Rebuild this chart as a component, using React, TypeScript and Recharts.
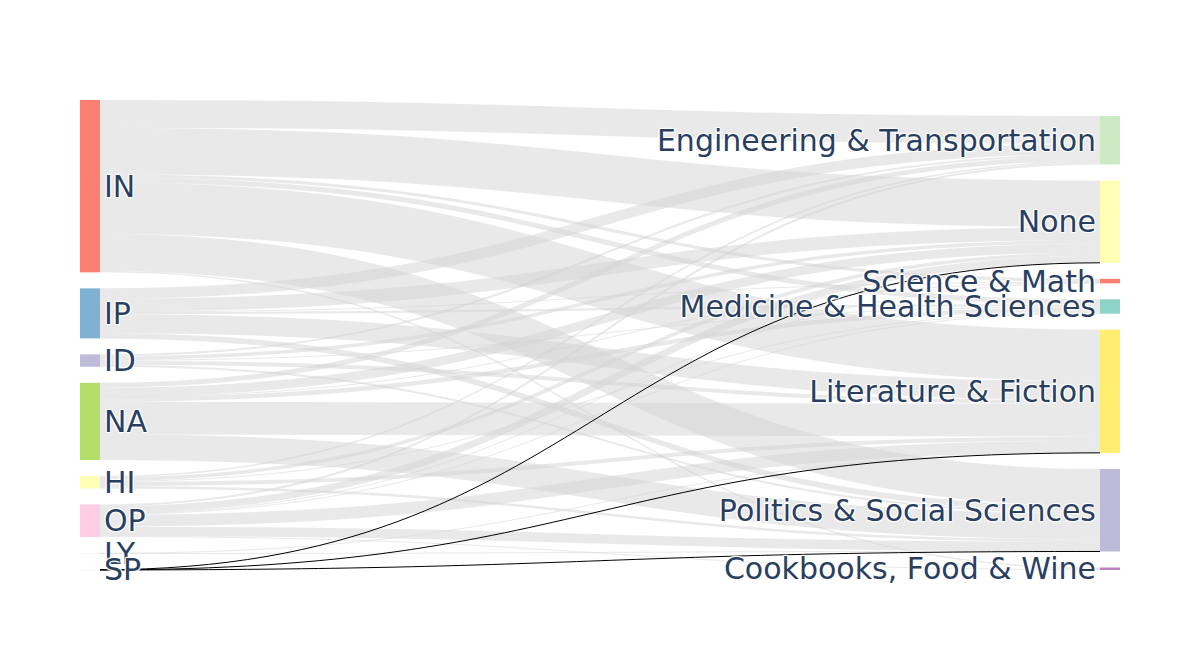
import React from 'react';
import { Sankey } from 'recharts';

// left column (source codes) and right column (categories)
const SOURCES = ['IN', 'IP', 'ID', 'NA', 'HI', 'OP', 'LY', 'SP'];
const TARGETS = [
    'Engineering & Transportation',
    'None',
    'Science & Math',
    'Medicine & Health Sciences',
    'Literature & Fiction',
    'Politics & Social Sciences',
    'Cookbooks, Food & Wine',
];

// flows from each source to the targets, in TARGETS order
const IN_FLOWS = [28, 47, 3, 5, 52, 37.5, 1.5];
const IP_FLOWS = [10.5, 13, 0.5, 2, 19, 5.5, 0];
const ID_FLOWS = [2, 3.5, 0, 1, 4, 2, 0];
const NA_FLOWS = [5, 9, 0.5, 4.5, 33, 26, 0];
const HI_FLOWS = [1.5, 3.5, 0, 1, 4, 2.5, 0];
const OP_FLOWS = [2, 7, 0.5, 1, 12, 9.5, 1];
const LY_FLOWS = [0, 0, 0, 0, 0.3, 0.3, 0];
const SP_FLOWS = [0, 0.1, 0, 0, 0.1, 0.1, 0];

const FLOWS = [IN_FLOWS, IP_FLOWS, ID_FLOWS, NA_FLOWS, HI_FLOWS, OP_FLOWS, LY_FLOWS, SP_FLOWS];

const SOURCE_COLORS = ['#fb8072', '#80b1d3', '#bebada', '#b3de69', '#ffffb3', '#fccde5', '#fdf0e8', '#eeeeee'];
const TARGET_COLORS = ['#ccebc5', '#ffffb3', '#fb8072', '#8dd3c7', '#ffed6f', '#bebada', '#bc80bd'];
const COLORS = [...SOURCE_COLORS, ...TARGET_COLORS];

const HIGHLIGHT_SOURCE = 'SP';

const nodes = [...SOURCES, ...TARGETS].map((name) => ({ name }));
const links: { source: number; target: number; value: number }[] = [];
FLOWS.forEach((row, s) => {
    row.forEach((v, t) => {
        if (v > 0) links.push({ source: s, target: SOURCES.length + t, value: v });
    });
});

const LABEL_STYLE: React.CSSProperties = {
    fontFamily: '"DejaVu Sans", Verdana, sans-serif',
    fontSize: 30,
    fill: '#2a3f5f',
    textShadow: '1px 1px 1px #fff, -1px -1px 1px #fff, 1px -1px 1px #fff, -1px 1px 1px #fff',
};

const Node = (props: any) => {
    const { x, y, width, height, index, payload } = props;
    const isRight = index >= SOURCES.length;
    const cy = y + height / 2;
    return (
        <g>
            <rect x={x} y={y} width={width} height={Math.max(height, 0.5)} fill={COLORS[index]} />
            <text
                x={isRight ? x - 4 : x + width + 4}
                y={cy}
                textAnchor={isRight ? 'end' : 'start'}
                dominantBaseline="central"
                style={LABEL_STYLE}
            >
                {payload.name}
            </text>
        </g>
    );
};

const Link = (props: any) => {
    const { sourceX, targetX, sourceY, targetY, sourceControlX, targetControlX, linkWidth, payload } = props;
    const d = `M${sourceX},${sourceY} C${sourceControlX},${sourceY} ${targetControlX},${targetY} ${targetX},${targetY}`;
    const isHighlight = payload.source.name === HIGHLIGHT_SOURCE;
    if (isHighlight) {
        return <path d={d} fill="none" stroke="#000" strokeWidth={1} />;
    }
    return <path d={d} fill="none" stroke="#d3d3d3" strokeOpacity={0.5} strokeWidth={Math.max(linkWidth, 1)} />;
};

const App: React.FC = () => {
    return (
        <div style={{ position: 'absolute', left: 0, top: 0, width: 1200, height: 650, background: '#fff' }}>
            <Sankey
                width={1200}
                height={650}
                data={{ nodes, links }}
                margin={{ top: 100, right: 80, bottom: 80, left: 80 }}
                nodeWidth={20}
                nodePadding={16}
                iterations={32}
                sort={false}
                linkCurvature={0.5}
                node={<Node />}
                link={<Link />}
            />
        </div>
    );
};

export default App;
